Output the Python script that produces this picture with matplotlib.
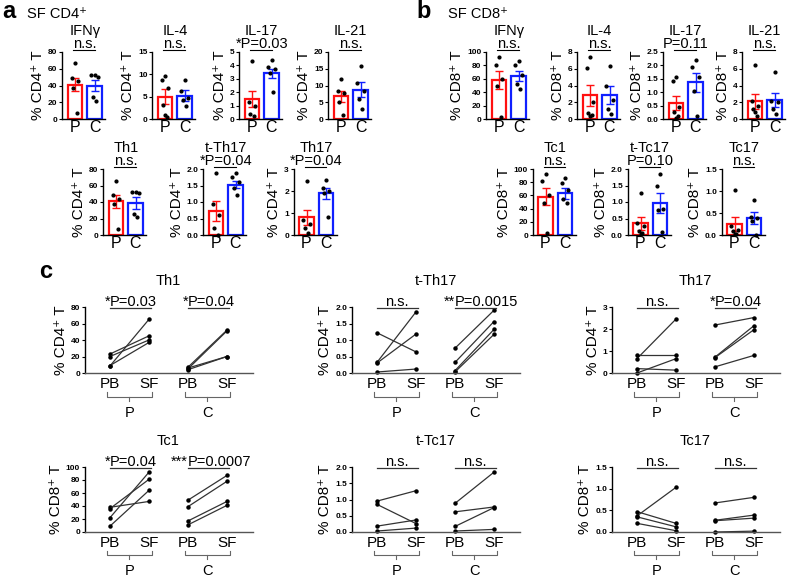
import matplotlib.pyplot as plt

plt.rcParams["font.family"] = ["Liberation Sans", "DejaVu Sans"]

RED = "#FF1010"
BLUE = "#1020FF"
LINE = "#333333"
W, H = 798, 583

# ---- panel a: SF CD4+ (P vs C) ----
cd4_titles = ["IFNγ", "IL-4", "IL-17", "IL-21", "Th1", "t-Th17", "Th17"]
cd4_sig = ["n.s.", "n.s.", "*P=0.03", "n.s.", "n.s.", "*P=0.04", "*P=0.04"]
cd4_ticks = [[0, 20, 40, 60, 80], [0, 5, 10, 15], [0, 1, 2, 3, 4, 5],
             [0, 5, 10, 15, 20], [0, 20, 40, 60, 80],
             [0.0, 0.5, 1.0, 1.5, 2.0], [0, 1, 2, 3]]
cd4_mean_p = [41, 5.0, 1.5, 6.8, 41, 0.72, 0.8]
cd4_sem_p = [8, 1.7, 0.6, 1.7, 8, 0.3, 0.33]
cd4_mean_c = [40, 5.2, 3.4, 8.8, 38.5, 1.53, 1.9]
cd4_sem_c = [7, 1.2, 0.35, 2.3, 7.5, 0.12, 0.25]
cd4_pts_p = [[67, 49, 45, 37, 7], [9.6, 8.7, 7.0, 3.2, 0.5, 0.8],
             [4.3, 1.3, 1.0, 0.4, 0.2], [11.9, 8.4, 7.7, 5.0, 1.2],
             [65, 49, 44, 37, 7], [1.87, 0.95, 0.62, 0.2, 0.0],
             [2.45, 0.7, 0.5, 0.3, 0.1]]
cd4_pts_c = [[52, 52, 50, 26, 22], [8.7, 6.2, 4.6, 4.2, 3.0],
             [4.4, 3.9, 3.7, 3.4, 2.0], [15.8, 10.8, 8.4, 6.0, 3.0],
             [52, 52, 51, 25, 22], [1.87, 1.75, 1.6, 1.42, 1.22],
             [2.5, 2.15, 2.0, 1.9, 0.8]]

# ---- panel b: SF CD8+ (P vs C) ----
cd8_titles = ["IFNγ", "IL-4", "IL-17", "IL-21", "Tc1", "t-Tc17", "Tc17"]
cd8_sig = ["n.s.", "n.s.", "P=0.11", "n.s.", "n.s.", "P=0.10", "n.s."]
cd8_ticks = [[0, 20, 40, 60, 80, 100], [0, 2, 4, 6, 8],
             [0.0, 0.5, 1.0, 1.5, 2.0, 2.5], [0, 2, 4, 6, 8],
             [0, 20, 40, 60, 80, 100], [0.0, 0.5, 1.0, 1.5, 2.0],
             [0.0, 0.5, 1.0, 1.5]]
cd8_mean_p = [58, 2.85, 0.6, 2.1, 58, 0.35, 0.25]
cd8_sem_p = [13, 1.25, 0.26, 0.85, 13, 0.2, 0.16]
cd8_mean_c = [64, 2.9, 1.37, 2.3, 63, 0.97, 0.39]
cd8_sem_c = [8, 1.05, 0.36, 0.85, 8, 0.3, 0.13]
cd8_pts_p = [[93, 80, 60, 50, 3], [7.4, 6.1, 2.0, 0.7, 0.5, 0.4],
             [1.55, 1.4, 0.45, 0.25, 0.1, 0.05], [6.4, 2.2, 1.6, 1.2, 0.3, 0.8],
             [93, 82, 60, 48, 3], [1.28, 0.35, 0.27, 0.12, 0.05, 0.03],
             [1.03, 0.2, 0.12, 0.1, 0.03, 0.02]]
cd8_pts_c = [[87, 80, 65, 52, 45], [6.3, 4.0, 2.3, 1.2, 0.6],
             [2.2, 1.95, 1.55, 1.05, 0.1], [5.6, 2.1, 2.0, 1.2, 0.6],
             [86, 79, 68, 55, 48], [1.85, 1.5, 0.78, 0.75, 0.1],
             [0.8, 0.42, 0.38, 0.32, 0.0]]

# ---- panel c: paired PB vs SF ----
c_titles = ["Th1", "t-Th17", "Th17", "Tc1", "t-Tc17", "Tc17"]
c_ylabels = ["% CD4⁺ T"] * 3 + ["% CD8⁺ T"] * 3
c_ticks = [[0, 20, 40, 60, 80], [0.0, 0.5, 1.0, 1.5, 2.0], [0, 1, 2, 3],
           [0, 20, 40, 60, 80, 100], [0.0, 0.5, 1.0, 1.5, 2.0],
           [0.0, 0.5, 1.0, 1.5]]
c_sig_p = ["*P=0.03", "n.s.", "n.s.", "*P=0.04", "n.s.", "n.s."]
c_sig_c = ["*P=0.04", "**P=0.0015", "*P=0.04", "***P=0.0007", "n.s.", "n.s."]
c_p_pb = [[8.5, 23, 20, 9], [1.22, 0.32, 0.30, 0.03], [0.65, 0.8, 0.0, 0.2],
          [38, 36, 22, 9], [0.95, 0.85, 0.18, 0.03], [0.37, 0.47, 0.35, 0.2]]
c_p_sf = [[65, 45, 40, 37], [0.64, 1.85, 1.18, 0.12], [2.45, 0.8, 0.65, 0.13],
          [47, 81, 92, 64], [1.27, 0.26, 0.37, 0.12], [1.03, 0.2, 0.12, 0.03]]
c_c_pb = [[7, 5, 4, 6], [0.75, 0.32, 0.07, 0.03], [2.18, 0.72, 0.70, 0.28],
          [49, 39, 17, 11], [0.88, 0.62, 0.17, 0.03], [0.67, 0.27, 0.26, 0.0]]
c_c_sf = [[52, 51, 20, 20], [1.9, 1.56, 1.32, 1.17], [2.52, 2.15, 1.97, 0.8],
          [87, 78, 47, 41], [1.84, 0.77, 0.75, 0.08], [0.8, 0.39, 0.32, 0.02]]


fig = plt.figure(figsize=(W / 100, H / 100), dpi=100)


def px_axes(left, top, right, bottom):
    return fig.add_axes([left / W, 1 - bottom / H, (right - left) / W,
                         (bottom - top) / H])


def fmt(ticks):
    if all(isinstance(t, int) for t in ticks):
        return [str(t) for t in ticks]
    return [f"{t:.1f}" for t in ticks]


def style_y(ax, ticks):
    ax.set_ylim(0, ticks[-1])
    ax.set_yticks(ticks)
    ax.set_yticklabels(fmt(ticks))
    for s in ("top", "right"):
        ax.spines[s].set_visible(False)
    for s in ("left", "bottom"):
        ax.spines[s].set_linewidth(1.0)
    ax.tick_params(axis="y", length=2.5, width=0.8, pad=1, labelsize=6)
    for lab in ax.get_yticklabels():
        lab.set_fontweight("bold")


JIT = [0.0, -0.17, 0.17, -0.08, 0.08, 0.0]


def bar_panel(cx, top, bottom, title, sig, ylab, ticks, mp, sp, mc, sc, pp, pc):
    u = 19.5
    ax = px_axes(cx - 0.65 * u, top, cx + 1.55 * u, bottom)
    ax.set_xlim(-0.65, 1.55)
    for i, (m, s, pts, col) in enumerate([(mp, sp, pp, RED), (mc, sc, pc, BLUE)]):
        ax.bar(i, m, width=0.72, facecolor="white", edgecolor=col, linewidth=1.6)
        ax.errorbar(i, m, yerr=s, color=col, capsize=3, capthick=1.0,
                    elinewidth=1.0)
        xs = [i + JIT[k % len(JIT)] for k in range(len(pts))]
        ax.scatter(xs, pts, s=4, color="black", zorder=4, clip_on=False)
    style_y(ax, ticks)
    ax.set_xticks([0, 1])
    ax.set_xticklabels(["P", "C"], fontsize=11.5)
    ax.tick_params(axis="x", length=0, pad=1)
    ax.set_ylabel(ylab, fontsize=11, labelpad=2)
    tr = ax.get_xaxis_transform()
    ax.plot([-0.1, 1.0], [1.03, 1.03], transform=tr, color="black", lw=0.8,
            clip_on=False)
    ax.text(0.5, 1.06, sig, transform=tr, ha="center", va="baseline",
            fontsize=10.5)
    ax.text(0.5, 1.26, title, transform=tr, ha="center", va="baseline",
            fontsize=10.5)
    return ax


def sig_text(ax, x0, x1, s):
    tr = ax.get_xaxis_transform()
    ax.plot([x0, x1 + 0.05], [0.99, 0.99], transform=tr, color=LINE, lw=0.9,
            clip_on=False)
    if s.startswith("*"):
        stars = s[: len(s) - len(s.lstrip("*"))]
        ax.text(x0, 1.02, stars, transform=tr, ha="right", va="baseline",
                fontsize=10.5)
        ax.text(x0, 1.02, s.lstrip("*"), transform=tr, ha="left", va="baseline",
                fontsize=10.5)
    else:
        ax.text((x0 + x1) / 2, 1.02, s, transform=tr, ha="center", va="baseline",
                fontsize=10.5)


def pair_panel(sx, top, bottom, title, ylab, ticks, sp, sc, ppb, psf, cpb, csf):
    u = 39
    ax = px_axes(sx, top, sx + 4.31 * u, bottom)
    ax.set_xlim(-0.64, 3.67)
    for x0, pbs, sfs in [(0, ppb, psf), (2, cpb, csf)]:
        for a, b in zip(pbs, sfs):
            ax.plot([x0, x0 + 1], [a, b], color=LINE, lw=0.9, marker="o", ms=2.2,
                    mfc="black", mec="black", clip_on=False)
    style_y(ax, ticks)
    ax.spines["bottom"].set_color("#555555")
    ax.set_xticks([0, 1, 2, 3])
    ax.set_xticklabels(["PB", "SF", "PB", "SF"], fontsize=11)
    ax.tick_params(axis="x", length=0, pad=3)
    ax.set_ylabel(ylab, fontsize=11, labelpad=2)
    tr = ax.get_xaxis_transform()
    for x0, grp in [(0, "P"), (2, "C")]:
        ax.plot([x0 - 0.08, x0 - 0.08, x0 + 1.08, x0 + 1.08],
                [-0.29, -0.36, -0.36, -0.29], transform=tr, color="#666666",
                lw=0.8, clip_on=False)
        ax.plot([x0 + 0.5, x0 + 0.5], [-0.36, -0.42], transform=tr,
                color="#666666", lw=0.8, clip_on=False)
        ax.text(x0 + 0.5, -0.6, grp, transform=tr, ha="center", va="center",
                fontsize=10.5)
    sig_text(ax, 0, 1, sp)
    sig_text(ax, 2, 3, sc)
    ax.text(1.5, 1.34, title, transform=tr, ha="center", va="baseline",
            fontsize=10.5)
    return ax


# layout (pixel positions)
cd4_cx = [75, 165, 252, 341, 116, 216, 306.5]
cd8_cx = [499, 590, 676, 755, 545.5, 640.5, 734.5]
rows = [(52, 119)] * 4 + [(169, 235)] * 3

for i in range(7):
    t, b = rows[i]
    bar_panel(cd4_cx[i], t, b, cd4_titles[i], cd4_sig[i], "% CD4⁺ T", cd4_ticks[i],
              cd4_mean_p[i], cd4_sem_p[i], cd4_mean_c[i], cd4_sem_c[i],
              cd4_pts_p[i], cd4_pts_c[i])
    bar_panel(cd8_cx[i], t, b, cd8_titles[i], cd8_sig[i], "% CD8⁺ T", cd8_ticks[i],
              cd8_mean_p[i], cd8_sem_p[i], cd8_mean_c[i], cd8_sem_c[i],
              cd8_pts_p[i], cd8_pts_c[i])

c_sx = [85, 352, 612] * 2
c_rows = [(307, 373)] * 3 + [(467, 532)] * 3
for i in range(6):
    t, b = c_rows[i]
    pair_panel(c_sx[i], t, b, c_titles[i], c_ylabels[i], c_ticks[i],
               c_sig_p[i], c_sig_c[i], c_p_pb[i], c_p_sf[i], c_c_pb[i], c_c_sf[i])

fig.text(2 / W, 1 - 11 / H, "a", fontsize=17, fontweight="bold", va="center")
fig.text(27 / W, 1 - 14 / H, "SF CD4⁺", fontsize=10.5, va="center")
fig.text(416 / W, 1 - 11 / H, "b", fontsize=17, fontweight="bold", va="center")
fig.text(448 / W, 1 - 14 / H, "SF CD8⁺", fontsize=10.5, va="center")
fig.text(39 / W, 1 - 272 / H, "c", fontsize=17, fontweight="bold", va="center")

fig.savefig("out.png", dpi=100)
